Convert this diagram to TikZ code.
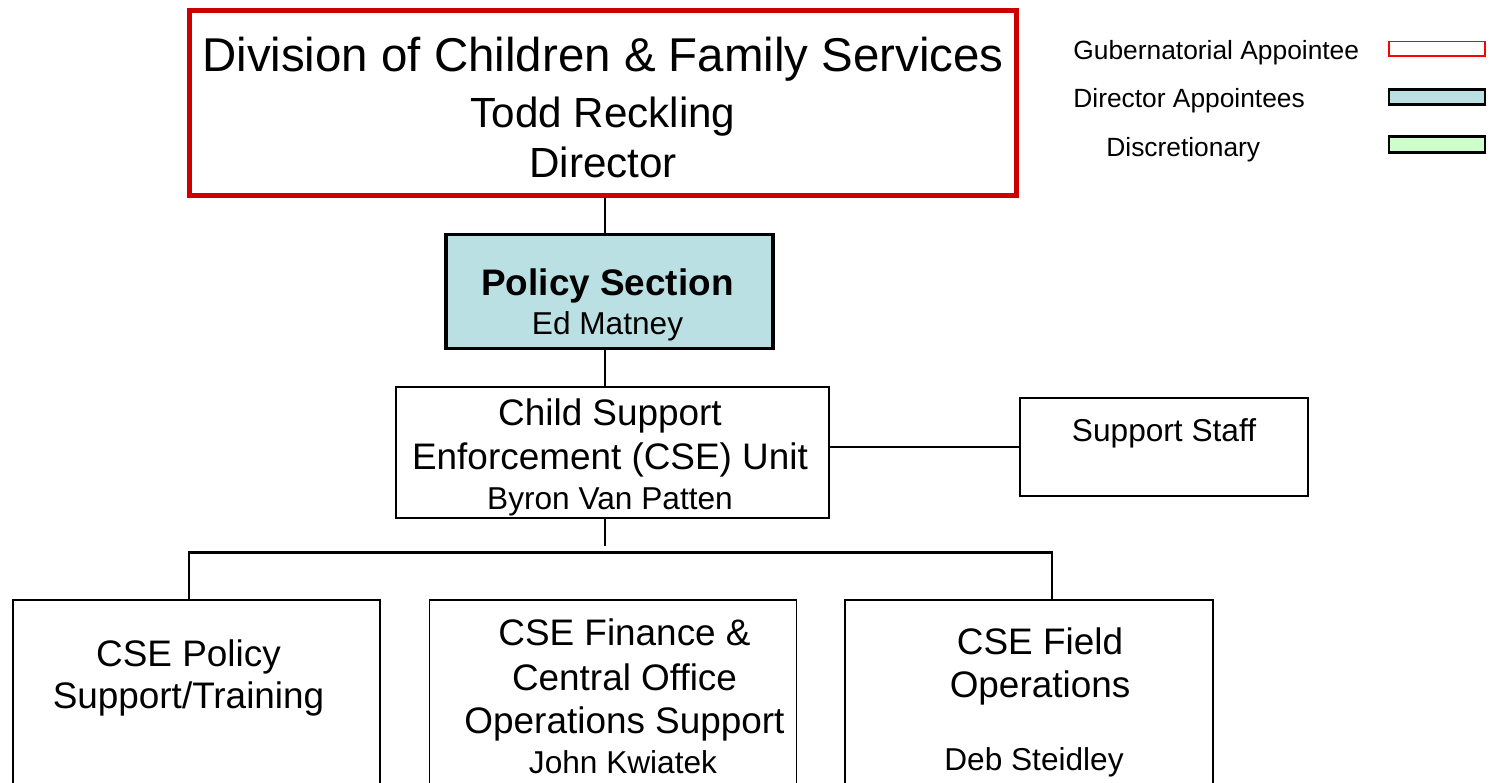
\documentclass[tikz,border=0pt]{standalone}
\usepackage{fontspec}
\setmainfont{Liberation Sans}
\definecolor{dcfsred}{RGB}{204,0,0}
\definecolor{policyblue}{RGB}{186,224,227}
\definecolor{discgreen}{RGB}{204,255,204}

\begin{document}
\begin{tikzpicture}[every node/.style={inner sep=0pt},
    box/.style={draw, line width=1pt},
    txt/.style={anchor=base},
    huge/.style={font=\fontsize{27}{32}\selectfont},
    large/.style={font=\fontsize{24}{28}\selectfont},
    mid/.style={font=\fontsize{21}{25}\selectfont},
    small/.style={font=\fontsize{18}{22}\selectfont},
    leg/.style={anchor=base west, font=\fontsize{15}{18}\selectfont}]
    \path[use as bounding box] (0,0) rectangle (29.86,-15.64);
    \clip (0,0) rectangle (29.86,-15.64);

    % Boxes
    \node[box, draw=dcfsred, line width=2.8pt, minimum width=16.54cm, minimum height=3.7cm] (dcfs) at (12.06,-2.06) {};
    \node[box, fill=policyblue, line width=2.2pt, minimum width=6.54cm, minimum height=2.28cm] (policy) at (12.19,-5.83) {};
    \node[box, minimum width=8.66cm, minimum height=2.62cm] (unit) at (12.25,-9.05) {};
    \node[box, minimum width=5.76cm, minimum height=1.96cm] (staff) at (23.28,-8.94) {};
    \node[box, minimum width=7.34cm, minimum height=3.8cm] (polsup) at (3.93,-13.9) {};
    \node[box, minimum width=7.34cm, minimum height=3.8cm] (finance) at (12.26,-13.9) {};
    \node[box, minimum width=7.36cm, minimum height=3.8cm] (field) at (20.58,-13.9) {};

    % Box texts
    \node[txt, huge] (dcfsA) at (12.06,-1.42) {Division of Children \& Family Services};
    \node[txt, large] (dcfsB) at (12.06,-2.54) {Todd Reckling};
    \node[txt, large] (dcfsC) at (12.06,-3.54) {Director};
    \node[txt, mid] (policyA) at (12.15,-5.90) {\bfseries Policy Section};
    \node[txt, small] (policyB) at (12.15,-6.68) {Ed Matney};
    \node[txt, mid] (unitA) at (12.2,-8.50) {Child Support};
    \node[txt, mid] (unitB) at (12.2,-9.38) {Enforcement (CSE) Unit};
    \node[txt, small] (unitC) at (12.2,-10.18) {Byron Van Patten};
    \node[txt, small] (staffA) at (23.28,-8.82) {Support Staff};
    \node[txt, mid] (polsupA) at (3.77,-13.32) {CSE Policy};
    \node[txt, mid] (polsupB) at (3.77,-14.16) {Support/Training};
    \node[txt, mid] (financeA) at (12.49,-12.9) {CSE Finance \&};
    \node[txt, mid] (financeB) at (12.49,-13.8) {Central Office};
    \node[txt, mid] (financeC) at (12.49,-14.66) {Operations Support};
    \node[txt, small] (financeD) at (12.46,-15.46) {John Kwiatek};
    \node[txt, mid] (fieldA) at (20.8,-13.08) {CSE Field};
    \node[txt, mid] (fieldB) at (20.8,-13.94) {Operations};
    \node[txt, small] (fieldC) at (20.68,-15.4) {Deb Steidley};

    % Connectors
    \coordinate (spine) at (12.1,0);
    \coordinate (drop) at (12.1,-10.92);
    \coordinate (busL) at (3.78,-11.05);
    \coordinate (busR) at (21.04,-11.05);
    \draw[line width=1pt] (dcfs.south -| spine) -- (policy.north -| spine);
    \draw[line width=1pt] (policy.south -| spine) -- (unit.north -| spine);
    \draw[line width=1pt] (staff.west -| unit.east) -- (staff.west);
    \draw[line width=1pt] (unit.south -| spine) -- (drop);
    \draw[line width=1.2pt] (polsup.north -| busL) -- (busL) -- (busR) -- (field.north -| busR);

    % Legend
    \node[leg] (legGubT) at (21.46,-1.18) {Gubernatorial Appointee};
    \node[leg] (legDirT) at (21.46,-2.15) {Director Appointees};
    \node[leg] (legDiscT) at (22.12,-3.12) {Discretionary};
    \node[draw=red, line width=1.1pt, minimum width=1.92cm, minimum height=0.29cm] (legGub) at (28.74,-0.975) {};
    \node[box, fill=policyblue, line width=1.5pt, minimum width=1.92cm, minimum height=0.31cm] (legDir) at (28.74,-1.94) {};
    \node[box, fill=discgreen, line width=1.5pt, minimum width=1.92cm, minimum height=0.31cm] (legDisc) at (28.74,-2.89) {};
\end{tikzpicture}
\end{document}
